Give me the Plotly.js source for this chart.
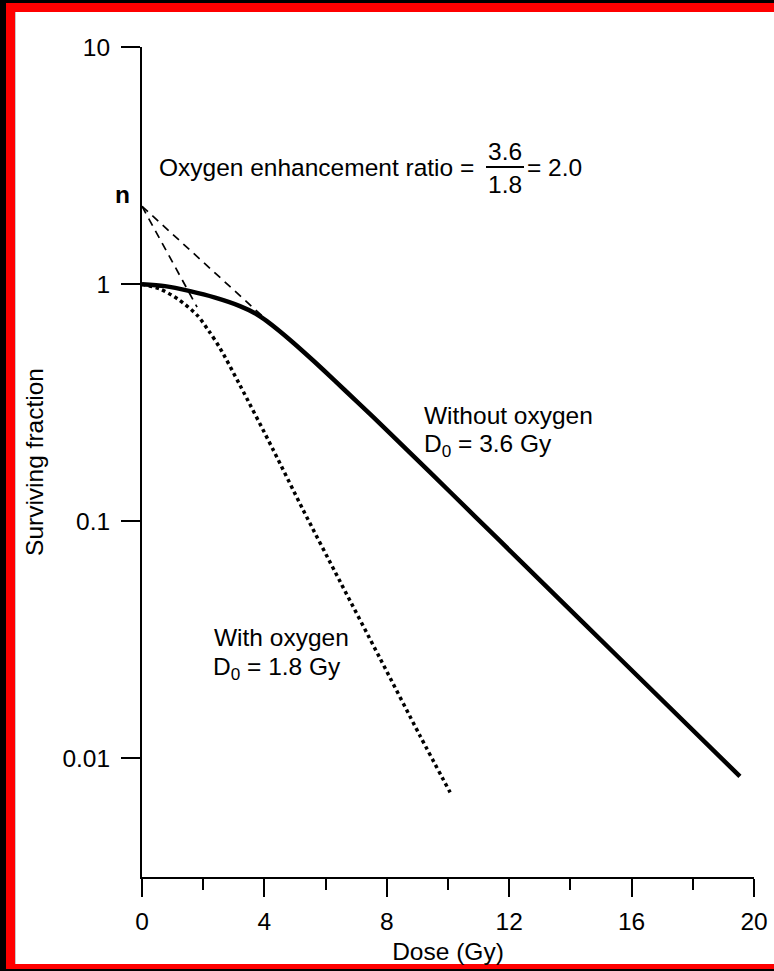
<!DOCTYPE html>
<html><head><meta charset="utf-8">
<script src="https://cdn.plot.ly/plotly-3.0.1.min.js"></script>
<style>
html,body{margin:0;padding:0;background:#000;width:774px;height:971px;overflow:hidden;}
#chart{position:absolute;left:0;top:0;width:774px;height:971px;}
</style></head><body>
<div id="chart"></div>
<script>
// Survival curve without oxygen (hypoxic), D0 = 3.6 Gy
const doseWithoutO2 = [0, 0.75, 1.57, 2.39, 3.2, 3.69, 4.08, 4.51, 4.84, 5.33, 5.92, 6.63, 7.55, 8.66, 10.07, 11.7, 13.01, 15.52, 19.54];
const sfWithoutO2   = [1.0, 0.981, 0.934, 0.877, 0.808, 0.754, 0.698, 0.631, 0.581, 0.511, 0.4356, 0.3569, 0.2758, 0.2002, 0.1329, 0.0826, 0.0564, 0.0271, 0.0084];
// Survival curve with oxygen (aerated), D0 = 1.8 Gy
const doseWithO2 = [0, 0.59, 1.18, 1.8, 2.19, 2.55, 3.2, 4.28, 5.26, 6.47, 7.78, 9.08, 10.07];
const sfWithO2   = [1.0, 0.953, 0.864, 0.74, 0.633, 0.537, 0.375, 0.201, 0.112, 0.0558, 0.0264, 0.0125, 0.00719];
// Extrapolation lines back to n
const extrapDoseWithout = [0, 4.0];
const extrapSfWithout   = [2.13, 0.72];
const extrapDoseWith    = [0, 1.8];
const extrapSfWith      = [2.13, 0.80];
// Axis ticks
const yTickVals = [0.01, 0.1, 1, 10];
const yTickText = ['0.01', '0.1', '1', '10'];

const FONT = '"Liberation Sans", Arial, Helvetica, sans-serif';
const FS = 24.5;
const L = 142, R = 754, T = 47, B = 877;
const PX = x => (x - L) / (R - L);
const PY = y => (B - y) / (B - T);

const traces = [
  {x: doseWithoutO2, y: sfWithoutO2, mode: 'lines', name: 'Without oxygen',
   line: {color: '#000', width: 4.5, shape: 'spline', smoothing: 0.8}, hoverinfo: 'skip'},
  {x: doseWithO2, y: sfWithO2, mode: 'lines', name: 'With oxygen',
   line: {color: '#000', width: 3.5, dash: 'dot', shape: 'spline', smoothing: 0.8}, hoverinfo: 'skip'},
  {x: extrapDoseWithout, y: extrapSfWithout, mode: 'lines', name: 'extrapolation',
   line: {color: '#000', width: 1.7, dash: '8px,6px'}, hoverinfo: 'skip'},
  {x: extrapDoseWith, y: extrapSfWith, mode: 'lines', name: 'extrapolation',
   line: {color: '#000', width: 1.7, dash: '8px,6px'}, hoverinfo: 'skip'}
];

function ann(text, x, y, xanchor, size) {
  return {text: text, xref: 'paper', yref: 'paper', x: PX(x), y: PY(y),
    xanchor: xanchor, yanchor: 'middle', showarrow: false,
    font: {family: FONT, size: size || FS, color: '#000'}};
}
function rect(x0, y0, x1, y1, color) {
  return {type: 'rect', xref: 'paper', yref: 'paper', layer: 'below',
    x0: PX(x0), x1: PX(x1), y0: PY(y0), y1: PY(y1),
    fillcolor: color, line: {width: 0, color: color}};
}

const layout = {
  width: 774, height: 971,
  margin: {l: L, r: 774 - R, t: T, b: 971 - B},
  paper_bgcolor: '#000', plot_bgcolor: 'rgba(0,0,0,0)',
  showlegend: false,
  font: {family: FONT, size: FS, color: '#000'},
  xaxis: {
    range: [0, 20], tickmode: 'linear', tick0: 0, dtick: 4,
    ticks: 'outside', ticklen: 18, tickwidth: 2, tickcolor: '#000',
    minor: {dtick: 2, tick0: 0, ticks: 'outside', ticklen: 11, tickwidth: 2, tickcolor: '#000', showgrid: false},
    showline: true, linewidth: 2, linecolor: '#000',
    showgrid: false, zeroline: false, ticklabelstandoff: 4,
    tickfont: {family: FONT, size: FS, color: '#000'},
    title: {text: 'Dose (Gy)', font: {family: FONT, size: FS, color: '#000'}, standoff: 8},
    fixedrange: true
  },
  yaxis: {
    type: 'log', range: [-2.5, 1], tickmode: 'array', tickvals: yTickVals, ticktext: yTickText,
    ticks: 'outside', ticklen: 19, tickwidth: 2, tickcolor: '#000',
    showline: true, linewidth: 2, linecolor: '#000',
    showgrid: false, zeroline: false, ticklabelstandoff: 6,
    tickfont: {family: FONT, size: FS, color: '#000'},
    title: {text: 'Surviving fraction', font: {family: FONT, size: FS, color: '#000'}, standoff: 12},
    fixedrange: true
  },
  annotations: [
    ann('Oxygen enhancement ratio =', 157, 168, 'left'),
    ann('3.6', 505, 151, 'center'),
    ann('1.8', 505, 184, 'center'),
    ann('= 2.0', 525, 168, 'left'),
    ann('<b>n</b>', 122, 195, 'center'),
    ann('Without oxygen', 422, 416, 'left'),
    ann('D<sub>0</sub> = 3.6 Gy', 422, 446, 'left'),
    ann('With oxygen', 212, 637, 'left'),
    ann('D<sub>0</sub> = 1.8 Gy', 211, 668, 'left')
  ],
  shapes: [
    rect(6, 3, 800, 969, '#ff0000'),
    rect(15, 12, 800, 964, '#ffffff'),
    {type: 'line', xref: 'paper', yref: 'paper', layer: 'below', x0: PX(15.5), x1: PX(15.5), y0: PY(12), y1: PY(964),
     line: {color: '#c8c8c8', width: 1}},
    {type: 'line', xref: 'paper', yref: 'paper', x0: PX(486), x1: PX(524), y0: PY(167), y1: PY(167),
     line: {color: '#000', width: 2}}
  ]
};

Plotly.newPlot('chart', traces, layout, {staticPlot: true, displayModeBar: false});
</script>
</body></html>
